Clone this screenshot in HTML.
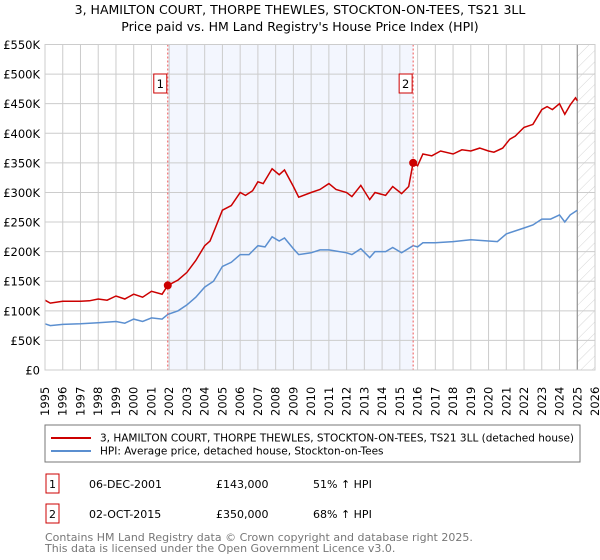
<!DOCTYPE html>
<html><head><meta charset="utf-8"><style>
body{margin:0;background:#fff;font-family:"Liberation Sans","DejaVu Sans",sans-serif;}
svg{display:block}
</style></head><body>
<svg width="600" height="560" xmlns="http://www.w3.org/2000/svg" font-family="'DejaVu Sans','Liberation Sans',sans-serif">
<defs><pattern id="hatch" width="8" height="8" patternUnits="userSpaceOnUse" patternTransform="rotate(45)"><line x1="0" y1="0" x2="0" y2="8" stroke="#ccc" stroke-width="0.8"/></pattern></defs>
<text x="300" y="14" text-anchor="middle" font-size="12.5">3, HAMILTON COURT, THORPE THEWLES, STOCKTON-ON-TEES, TS21 3LL</text>
<text x="300" y="31" text-anchor="middle" font-size="12.5">Price paid vs. HM Land Registry's House Price Index (HPI)</text>
<g id="plot"></g>
<rect x="45" y="425" width="535" height="37" fill="#fff" stroke="#777"/>
<line x1="51" y1="438" x2="91" y2="438" stroke="#cc0000" stroke-width="2"/>
<text x="100" y="441.5" font-size="10.5" textLength="474" lengthAdjust="spacingAndGlyphs">3, HAMILTON COURT, THORPE THEWLES, STOCKTON-ON-TEES, TS21 3LL (detached house)</text>
<line x1="51" y1="451" x2="91" y2="451" stroke="#5b8fd0" stroke-width="2"/>
<text x="100" y="454.5" font-size="10.5">HPI: Average price, detached house, Stockton-on-Tees</text>
<g font-size="11">
<rect x="46" y="474" width="13" height="19" fill="#fff" stroke="#cc0000"/><text x="52.5" y="488" text-anchor="middle">1</text>
<text x="89" y="488">06-DEC-2001</text><text x="216" y="488">£143,000</text><text x="313" y="488">51% ↑ HPI</text></g>
<g font-size="11">
<rect x="46" y="504" width="13" height="19" fill="#fff" stroke="#cc0000"/><text x="52.5" y="518" text-anchor="middle">2</text>
<text x="89" y="518">02-OCT-2015</text><text x="216" y="518">£350,000</text><text x="313" y="518">68% ↑ HPI</text></g>
<text x="45" y="541" font-size="11" fill="#777">Contains HM Land Registry data © Crown copyright and database right 2025.</text>
<text x="45" y="552" font-size="11" fill="#777">This data is licensed under the Open Government Licence v3.0.</text>
</svg>
<script>
const yearTicks=[1995,1996,1997,1998,1999,2000,2001,2002,2003,2004,2005,2006,2007,2008,2009,2010,2011,2012,2013,2014,2015,2016,2017,2018,2019,2020,2021,2022,2023,2024,2025,2026];
const priceTicks=[0,50000,100000,150000,200000,250000,300000,350000,400000,450000,500000,550000];
const priceLabels=["£0","£50K","£100K","£150K","£200K","£250K","£300K","£350K","£400K","£450K","£500K","£550K"];
const redT=[1995,1995.3,1996,1997,1997.5,1998,1998.5,1999,1999.5,2000,2000.5,2001,2001.6,2001.92,2002.5,2003,2003.5,2004,2004.3,2004.6,2005,2005.5,2006,2006.3,2006.7,2007,2007.3,2007.8,2008.2,2008.5,2009,2009.3,2010,2010.5,2011,2011.4,2012,2012.3,2012.8,2013.3,2013.6,2014.2,2014.6,2015.1,2015.5,2015.75,2016,2016.3,2016.8,2017.3,2018,2018.5,2019,2019.5,2020,2020.3,2020.8,2021.2,2021.5,2022,2022.5,2023,2023.3,2023.6,2024,2024.3,2024.6,2024.9,2025];
const redV=[118,113,116,116,117,120,118,125,120,128,123,133,128,143,152,165,185,210,218,240,270,278,300,295,303,318,315,340,330,338,310,292,300,305,315,305,300,293,312,288,300,295,310,298,310,350,345,365,362,370,365,372,370,375,370,368,375,390,395,410,415,440,445,440,450,432,448,460,455];
const blueT=[1995,1995.3,1996,1997,1998,1999,1999.5,2000,2000.5,2001,2001.6,2001.92,2002.5,2003,2003.5,2004,2004.5,2005,2005.5,2006,2006.5,2007,2007.4,2007.8,2008.2,2008.5,2009,2009.3,2010,2010.5,2011,2012,2012.3,2012.8,2013.3,2013.6,2014.2,2014.6,2015.1,2015.75,2016,2016.3,2017,2018,2019,2020,2020.5,2021,2022,2022.5,2023,2023.5,2024,2024.3,2024.6,2025];
const blueV=[78,75,77,78,80,82,79,86,82,88,86,94,100,110,123,140,150,175,182,195,195,210,208,225,218,223,205,195,198,203,203,198,195,205,190,200,200,207,198,210,208,215,215,217,220,218,217,230,240,245,255,255,262,250,262,270];
const sales=[[2001.92,143000,"1"],[2015.75,350000,"2"]];
const NS="http://www.w3.org/2000/svg";
const X0=45,X1=595,Y0=370,Y1=44.5;
const xs=t=>X0+(t-1995)/(2026-1995)*(X1-X0);
const ys=v=>Y0-v/550000*(Y0-Y1);
const g=document.getElementById('plot');
function mk(tag,attrs,parent){const e=document.createElementNS(NS,tag);for(const k in attrs)e.setAttribute(k,attrs[k]);(parent||g).appendChild(e);return e;}
let e;
e=mk('rect',{x:xs(2001.92),y:Y1,width:xs(2015.75)-xs(2001.92),height:Y0-Y1,fill:'#f3f6fe'});


e=mk('rect',{x:xs(2025.0),y:Y1,width:X1-xs(2025.0),height:Y0-Y1,fill:'url(#hatch)'});


yearTicks.forEach(y=>{
 e=mk('line',{x1:xs(y),x2:xs(y),y1:Y1,y2:Y0,stroke:'#ccc','stroke-width':1});
 
 
 e=mk('text',{x:0,y:0,'font-size':11.5,transform:`translate(${xs(y)+4},${Y0+46}) rotate(-90)`});
 e.textContent=y;
 
 
});
priceTicks.forEach((v,i)=>{
 e=mk('line',{x1:X0,x2:X1,y1:ys(v),y2:ys(v),stroke:'#ccc','stroke-width':1});
 
 
 e=mk('text',{x:40,y:ys(v)+4.5,'text-anchor':'end','font-size':11.5});
 e.textContent=priceLabels[i];
 
 
});
e=mk('line',{x1:xs(2025.0),x2:xs(2025.0),y1:Y1,y2:Y0,stroke:'#888','stroke-width':1});


function path(T,V){return T.map((t,i)=>(i?'L':'M')+xs(t).toFixed(1)+','+ys(V[i]*1000).toFixed(1)).join('');}
e=mk('path',{d:path(blueT,blueV),fill:'none',stroke:'#5b8fd0','stroke-width':1.5});


e=mk('path',{d:path(redT,redV),fill:'none',stroke:'#cc0000','stroke-width':1.5});


sales.forEach(s=>{
 e=mk('line',{x1:xs(s[0]),x2:xs(s[0]),y1:Y1,y2:Y0,stroke:'#e55','stroke-width':1,'stroke-dasharray':'2,2'});
 
 
 e=mk('circle',{cx:xs(s[0]),cy:ys(s[1]),r:4,fill:'#cc0000'});
 
 
 e=mk('rect',{x:xs(s[0])-14,y:74,width:13,height:19,fill:'#fff',stroke:'#cc0000'});
 
 
 e=mk('text',{x:xs(s[0])-7.5,y:88,'text-anchor':'middle','font-size':11.5});
 e.textContent=s[2];
 
 
});
e=mk('rect',{x:X0,y:Y1,width:X1-X0,height:Y0-Y1,fill:'none',stroke:'#ccc'});


</script>
</body></html>
